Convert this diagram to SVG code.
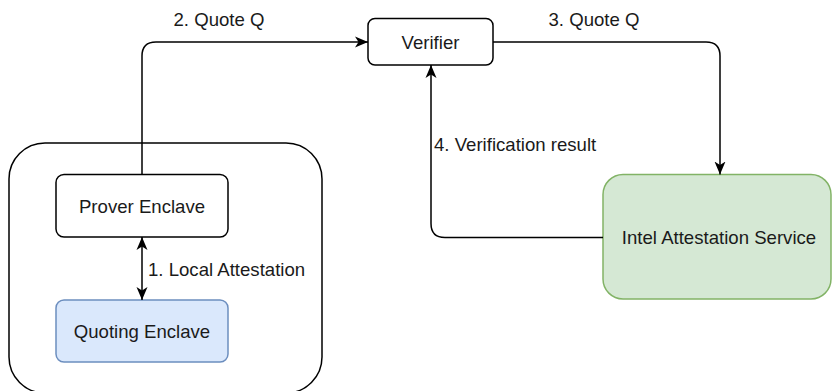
<svg xmlns="http://www.w3.org/2000/svg" width="832" height="391" viewBox="0 0 832 391">
  <style>
    .box { fill: #ffffff; stroke: #000000; stroke-width: 1.5; }
    .blue { fill: #dae8fc; stroke: #6c8ebf; stroke-width: 1.5; }
    .green { fill: #d5e8d4; stroke: #82b366; stroke-width: 1.5; }
    .edge { fill: none; stroke: #000000; stroke-width: 1.5; }
    text { font-family: "Liberation Sans", Arial, sans-serif; font-size: 18.6px; fill: #1a1a1a; }
    .c { text-anchor: middle; dominant-baseline: central; }
  </style>
  <defs>
    <marker id="arrow" viewBox="0 0 14 12" refX="13" refY="6" markerWidth="14" markerHeight="12" markerUnits="userSpaceOnUse" orient="auto-start-reverse">
      <path d="M0,0.5 L13,6 L0,11.5 L3.5,6 Z" fill="#000000"/>
    </marker>
  </defs>

  <!-- host platform container -->
  <g id="platform">
    <rect x="9" y="143" width="313" height="250" rx="36" ry="36" class="box"/>
  </g>

  <g id="prover">
    <rect x="56" y="174.5" width="172" height="62.5" rx="8" class="box"/>
    <text x="142" y="206" class="c">Prover Enclave</text>
  </g>

  <g id="quoting">
    <rect x="56" y="300" width="172" height="62" rx="8" class="blue"/>
    <text x="142" y="331.5" class="c">Quoting Enclave</text>
  </g>

  <g id="verifier">
    <rect x="368" y="18.5" width="125" height="46.5" rx="7" class="box"/>
    <text x="430.5" y="42" class="c">Verifier</text>
  </g>

  <g id="ias">
    <rect x="603" y="174.5" width="228" height="124.5" rx="20" class="green"/>
    <text x="719" y="237.5" class="c">Intel Attestation Service</text>
  </g>

  <!-- message flows -->
  <g id="connectors">
    <path class="edge" d="M142,237 L142,300" marker-start="url(#arrow)" marker-end="url(#arrow)"/>
    <path class="edge" d="M142,174.5 L142,56 Q142,42 156,42 L368,42" marker-end="url(#arrow)"/>
    <path class="edge" d="M493,42 L706,42 Q720,42 720,56 L720,174.5" marker-end="url(#arrow)"/>
    <path class="edge" d="M603,237.5 L445,237.5 Q431,237.5 431,223.5 L431,65" marker-end="url(#arrow)"/>
  </g>

  <g id="labels">
    <text x="148" y="275.5">1. Local Attestation</text>
    <text x="219" y="26" text-anchor="middle">2. Quote Q</text>
    <text x="594" y="26" text-anchor="middle">3. Quote Q</text>
    <text x="434" y="151">4. Verification result</text>
  </g>
</svg>
